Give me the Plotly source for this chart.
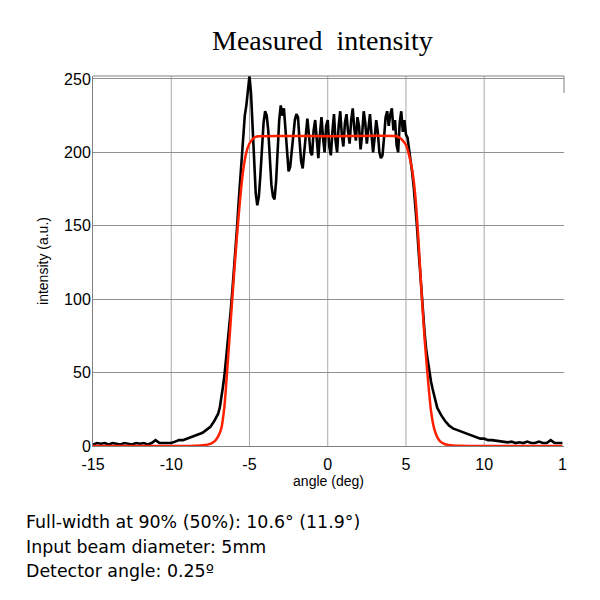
import plotly.graph_objects as go

# ---- Measured intensity (black) ----
angle_left_tail = [
    -15, -14.75, -14.5, -14.25, -14, -13.75, -13.5, -13.25, -13, -12.75,
    -12.5, -12.25, -12, -11.75, -11.5, -11.25, -11, -10.75, -10.5, -10.25,
    -10, -9.75, -9.5, -9.25, -9, -8.75, -8.5, -8.25, -8, -7.75,
    -7.5, -7.25,
]
intensity_left_tail = [
    1, 2, 1.5, 2, 1, 2, 1.5, 1, 2, 1.5,
    1, 2, 1.5, 2, 1, 2, 4, 2, 2, 2.5,
    2, 3, 4, 4, 5, 6, 7, 8, 9, 11,
    13, 17,
]
angle_core = [
    -7.0,
    -6.9, -6.8, -6.7, -6.6, -6.5, -6.4, -6.3, -6.2, -6.1, -6.0,
    -5.9, -5.8, -5.7, -5.6, -5.5, -5.4, -5.3, -5.2, -5.1, -5.0,
    -4.9, -4.8, -4.7, -4.6, -4.5, -4.4, -4.3, -4.2, -4.1, -4.0,
    -3.9, -3.8, -3.7, -3.6, -3.5, -3.4, -3.3, -3.2, -3.1, -3.0,
    -2.9, -2.8, -2.7, -2.6, -2.5, -2.4, -2.3, -2.2, -2.1, -2.0,
    -1.9, -1.8, -1.7, -1.6, -1.5, -1.4, -1.3, -1.2, -1.1, -1.0,
    -0.9, -0.8, -0.7, -0.6, -0.5, -0.4, -0.3, -0.2, -0.1, 0.0,
    0.1, 0.2, 0.3, 0.4, 0.5, 0.6, 0.7, 0.8, 0.9, 1.0,
    1.1, 1.2, 1.3, 1.4, 1.5, 1.6, 1.7, 1.8, 1.9, 2.0,
    2.1, 2.2, 2.3, 2.4, 2.5, 2.6, 2.7, 2.8, 2.9, 3.0,
    3.1, 3.2, 3.3, 3.4, 3.5, 3.6, 3.7, 3.8, 3.9, 4.0,
    4.1, 4.2, 4.3, 4.4, 4.5, 4.6, 4.7, 4.8, 4.9, 5.0,
    5.1, 5.2, 5.3, 5.4, 5.5, 5.6, 5.7, 5.8, 5.9, 6.0,
    6.1, 6.2, 6.3, 6.4, 6.5, 6.6, 6.7, 6.8, 6.9, 7.0,
]
intensity_core = [
    22,
    26, 32, 40, 48, 58, 68, 80, 92, 105, 118,
    132, 148, 165, 180, 195, 215, 225, 232, 245, 252,
    240, 215, 190, 172, 164, 170, 185, 205, 220, 228,
    225, 215, 195, 178, 170, 168, 180, 205, 222, 232,
    225, 230, 215, 200, 187, 190, 200, 212, 222, 226,
    224, 208, 194, 189, 200, 216, 223, 212, 200, 198,
    215, 222, 205, 196, 212, 224, 210, 200, 218, 222,
    204, 198, 214, 226, 208, 200, 218, 228, 212, 204,
    220, 226, 214, 206, 222, 230, 216, 208, 224, 218,
    202, 212, 228, 220, 206, 216, 226, 212, 200, 210,
    222, 214, 200, 196, 198, 210, 224, 228, 218, 226,
    230, 215, 222, 205, 200, 220, 228, 214, 222, 212,
    210, 202, 195, 186, 176, 165, 150, 134, 118, 103,
    88, 76, 65, 57, 50, 44, 39, 34, 30, 26,
]
angle_right_tail = [
    7.25, 7.5, 7.75, 8, 8.25, 8.5, 8.75, 9, 9.25, 9.5,
    9.75, 10, 10.25, 10.5, 10.75, 11, 11.25, 11.5, 11.75, 12,
    12.25, 12.5, 12.75, 13, 13.25, 13.5, 13.75, 14, 14.25, 14.5,
    14.75, 15,
]
intensity_right_tail = [
    21, 17, 14, 12, 11, 10, 9, 8, 7, 6,
    5, 5, 4, 4, 3.5, 3, 3, 2.5, 3, 2,
    2.5, 2, 3, 2, 2, 3, 2, 2, 4, 2,
    2, 2,
]

# ---- Fitted model (red) ----
angle_fit = [
    -15, -10, -9, -8.5, -8, -7.5, -7.2, -7.0, -6.8, -6.6, -6.4, -6.2, -6.0, -5.8, -5.6,
    -5.4, -5.2, -5.0, -4.8, -4.6, -4.4, 0, 4.4, 4.6, 4.8, 5.0, 5.2, 5.4, 5.6, 5.8, 6.0,
    6.2, 6.4, 6.6, 6.8, 7.0, 7.2, 7.5, 8.0, 8.5, 9, 15,
]
intensity_fit = [
    0, 0, 0, 0.2, 0.5, 1.5, 3.5, 6.5, 12, 27, 55, 85, 115, 143, 168,
    188, 200, 206, 209, 210.5, 211, 211, 211, 210, 208, 205, 198, 188, 170, 140, 104,
    72, 46, 24, 12, 6, 3, 1.2, 0.3, 0.1, 0, 0,
]

x_tickvals = [-15, -10, -5, 0, 5, 10, 15]
x_ticktext = ["-15", "-10", "-5", "0", "5", "10", "1"]
x_gridvals = [-10, -5, 0, 5, 10]
y_tickvals = [0, 50, 100, 150, 200, 250]

title_text = "Measured\u00a0\u00a0intensity"
info_lines = [
    "Full-width at 90% (50%): 10.6\u00b0 (11.9\u00b0)",
    "Input beam diameter: 5mm",
    "Detector angle: 0.25\u00ba",
]

angle_meas = angle_left_tail + angle_core + angle_right_tail
intensity_meas = intensity_left_tail + intensity_core + intensity_right_tail

# page body has an 8px margin; geometry below is in screen pixels
OFF = 8
W = H = 600 - OFF
L, R, T, B = 93 - OFF, 564 - OFF, 76 - OFF, 446 - OFF

fig = go.Figure()
for gx in x_gridvals:
    fig.add_shape(type="line", xref="x", yref="paper", x0=gx, x1=gx, y0=0, y1=1,
                  line=dict(color="#a8a8a8", width=1), layer="below")
fig.add_trace(go.Scatter(x=angle_meas, y=intensity_meas, mode="lines",
                         line=dict(color="black", width=2.6), showlegend=False))
fig.add_trace(go.Scatter(x=angle_fit, y=intensity_fit, mode="lines",
                         line=dict(color="#ff2000", width=2.5, shape="spline", smoothing=0.6),
                         showlegend=False))

fig.update_layout(
    width=W, height=H,
    margin=dict(l=L, r=W - R, t=T, b=H - B),
    paper_bgcolor="white", plot_bgcolor="white",
    font=dict(family="Liberation Sans, Arial, sans-serif", color="black"),
)
fig.update_xaxes(
    range=[-15, 15.1], tickvals=x_tickvals, ticktext=x_ticktext, automargin=False,
    tickfont=dict(size=16), showgrid=False, ticklabelstandoff=4,
    zeroline=False, showline=True, linecolor="#808080", linewidth=1, ticks="",
    title=dict(text="angle (deg)", font=dict(size=14), standoff=2),
)
fig.update_yaxes(
    range=[0, 252], tickvals=y_tickvals, automargin=False,
    tickfont=dict(size=16), showgrid=True, gridcolor="#909090", gridwidth=1,
    ticklabelstandoff=-2,
    zeroline=False, showline=True, linecolor="#808080", linewidth=1, ticks="",
    title=dict(text="intensity (a.u.)", font=dict(size=14), standoff=12),
)
# top frame line and short right-edge tick
fig.add_shape(type="line", xref="paper", yref="paper", x0=0, x1=1, y0=1, y1=1,
              line=dict(color="#808080", width=1))
fig.add_shape(type="line", xref="paper", yref="paper", x0=1, x1=1, y0=1, y1=1 - 17 / (B - T),
              line=dict(color="#808080", width=1))

fig.add_annotation(text=title_text, xref="paper", yref="paper", x=(322 - OFF - L) / (R - L), y=1,
                   yanchor="middle", yshift=T - (40 - OFF), showarrow=False,
                   font=dict(family="Liberation Serif, serif", size=28, color="black"))

info_y = [522, 547, 571]
for line, py in zip(info_lines, info_y):
    fig.add_annotation(text=line, xref="paper", yref="paper",
                       x=(24 - OFF - L) / (R - L), y=(B - (py - OFF)) / (B - T),
                       xanchor="left", yanchor="middle", showarrow=False,
                       font=dict(family="DejaVu Sans, sans-serif", size=17.4, color="black"))

fig.write_html("out.html")
